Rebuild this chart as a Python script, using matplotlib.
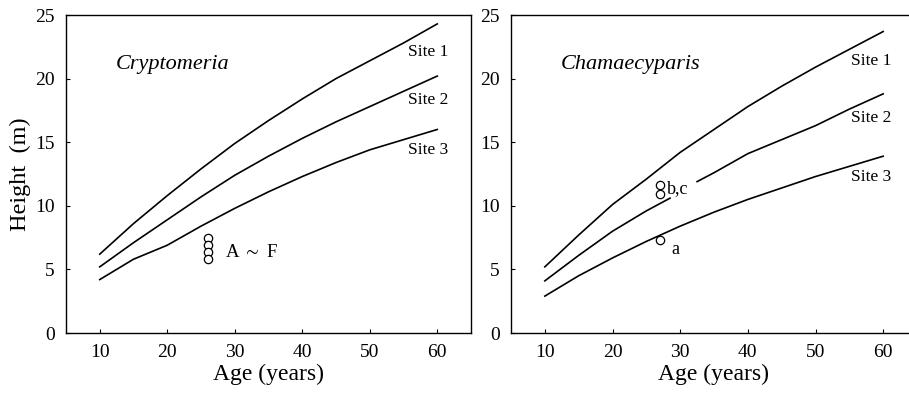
import numpy as np
import matplotlib
matplotlib.use("Agg")
import matplotlib.pyplot as plt

plt.rcParams['font.family'] = ['Liberation Serif', 'DejaVu Serif']
plt.rcParams['mathtext.fontset'] = 'stix'

ages = [10, 15, 20, 25, 30, 35, 40, 45, 50, 55, 60]

crypt_site1 = [6.2, 8.6, 10.8, 12.9, 14.9, 16.7, 18.4, 20.0, 21.4, 22.8, 24.3]
crypt_site2 = [5.2, 7.1, 8.9, 10.7, 12.4, 13.9, 15.3, 16.6, 17.8, 19.0, 20.2]
crypt_site3 = [4.2, 5.8, 6.9, 8.4, 9.8, 11.1, 12.3, 13.4, 14.4, 15.2, 16.0]

cham_site1 = [5.2, 7.7, 10.1, 12.1, 14.2, 16.0, 17.8, 19.4, 20.9, 22.3, 23.7]
cham_ages2 = [10, 15, 20, 25, 28.5, 30, 32.5, 35, 40, 45, 50, 55, 60]
cham_site2 = [4.1, 6.1, 8.0, 9.6, 10.6, np.nan, 11.9, 12.6, 14.1, 15.2, 16.3, 17.6, 18.8]
cham_site3 = [2.9, 4.5, 5.9, 7.2, 8.4, 9.5, 10.5, 11.4, 12.3, 13.1, 13.9]

crypt_obs_age = [26, 26, 26, 26]
crypt_obs_h = [7.45, 6.9, 6.35, 5.8]
cham_obs_age = [27, 27, 27]
cham_obs_h = [11.6, 10.95, 7.35]

site_labels = ["Site 1", "Site 2", "Site 3"]
xticks = [10, 20, 30, 40, 50, 60]
yticks = [0, 5, 10, 15, 20, 25]

fig = plt.figure(figsize=(9.09, 3.96), dpi=100)
ax1 = fig.add_axes([66/909, 63/396, 405/909, 318/396])
ax2 = fig.add_axes([511/909, 63/396, 406/909, 318/396])

lw = 1.2
for ax in (ax1, ax2):
    ax.set_xlim(5, 65)
    ax.set_ylim(0, 25)
    ax.set_xticks(xticks)
    ax.set_yticks(yticks)
    ax.tick_params(direction='in', length=3, width=0.8, labelsize=14, pad=8)
    for s in ax.spines.values():
        s.set_linewidth(1.0)
    ax.set_xlabel("Age (years)", fontsize=17, labelpad=2)
ax2.spines['right'].set_visible(False)

ax1.set_ylabel("Height  (m)", fontsize=17.5, labelpad=3)

# Cryptomeria
for vals in (crypt_site1, crypt_site2, crypt_site3):
    ax1.plot(ages, vals, color='black', lw=lw)
ax1.plot(crypt_obs_age, crypt_obs_h, 'o', mfc='white', mec='black', ms=6, mew=0.9, ls='none')
ax1.text(28.6, 6.3, r"A $\sim$ F", fontsize=13.5, va='center', ha='left')
ax1.text(12.4, 21.1, "Cryptomeria", fontsize=16, style='italic', va='center', ha='left')
for lab, y in zip(site_labels, [22.1, 18.3, 14.4]):
    ax1.text(55.6, y, lab, fontsize=12.5, va='center', ha='left')

# Chamaecyparis
ax2.plot(ages, cham_site1, color='black', lw=lw)
ax2.plot(cham_ages2, cham_site2, color='black', lw=lw)
ax2.plot(ages, cham_site3, color='black', lw=lw)
ax2.plot(cham_obs_age, cham_obs_h, 'o', mfc='white', mec='black', ms=6, mew=0.9, ls='none')
ax2.text(28.0, 11.35, "b,c", fontsize=13, va='center', ha='left')
ax2.text(28.7, 6.55, "a", fontsize=13, va='center', ha='left')
ax2.text(12.3, 21.1, "Chamaecyparis", fontsize=16, style='italic', va='center', ha='left')
for lab, y in zip(site_labels, [21.4, 16.9, 12.3]):
    ax2.text(55.3, y, lab, fontsize=12.5, va='center', ha='left')

fig.savefig("out.png", dpi=100)
